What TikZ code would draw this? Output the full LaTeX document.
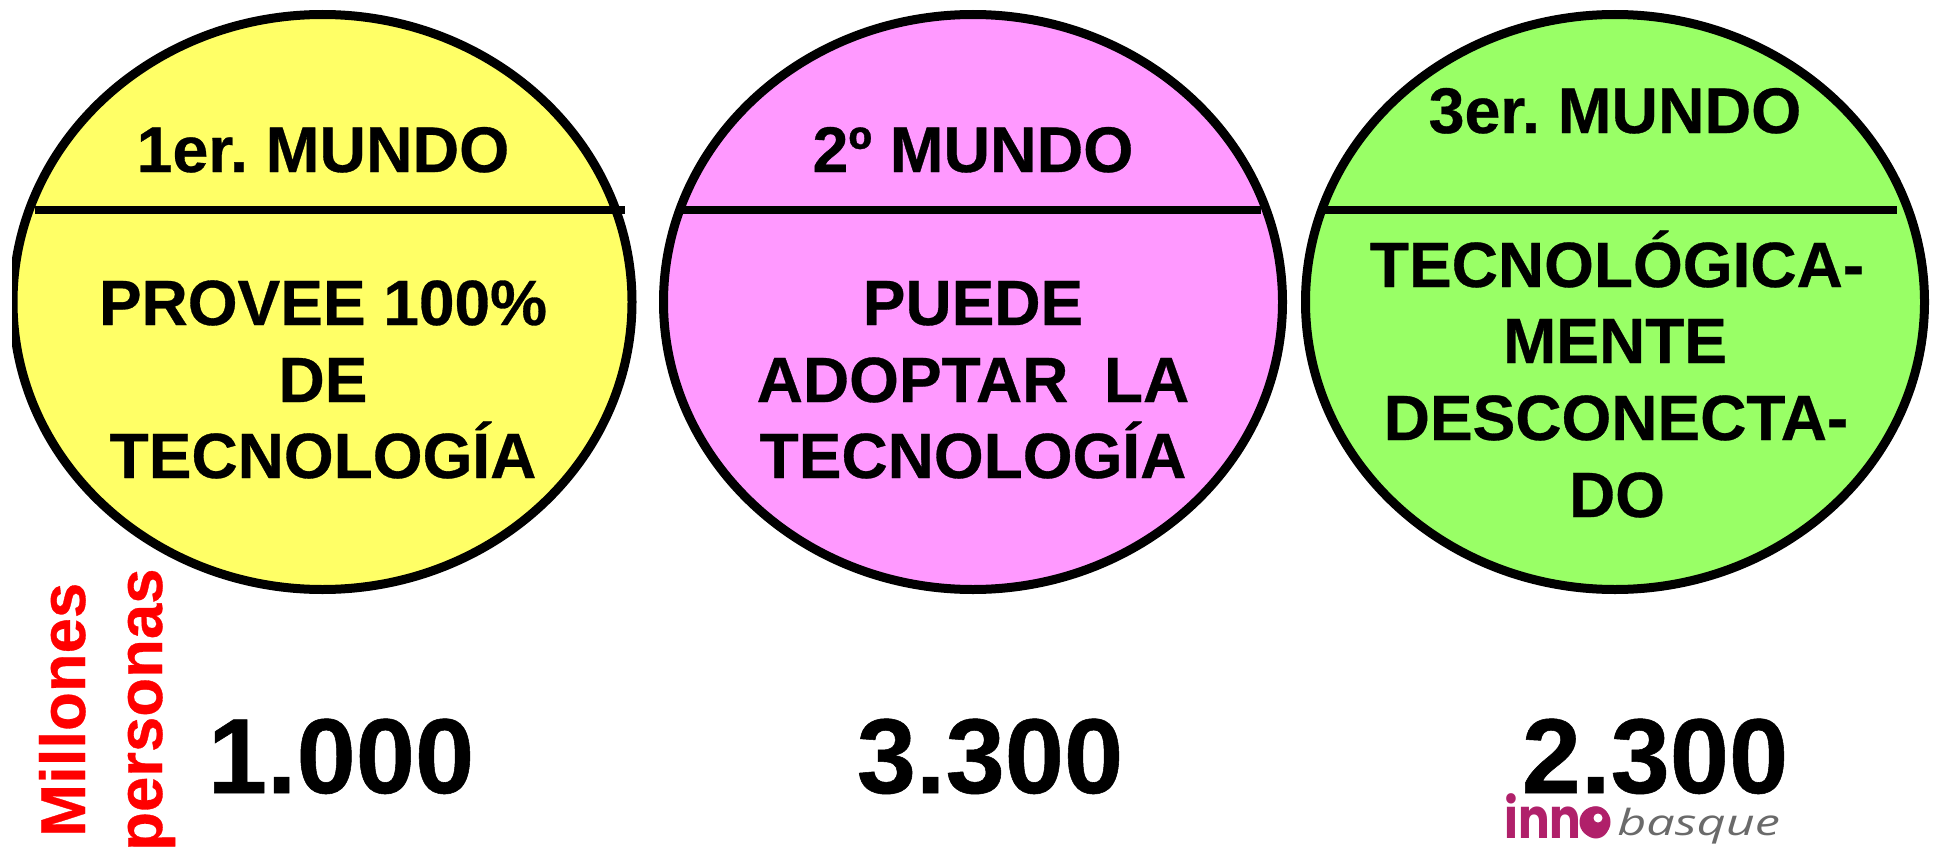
\documentclass[tikz,border=0pt]{standalone}
\usepackage{fontspec}
\setmainfont{Liberation Sans}[BoldFeatures={FakeBold=0.5}]
\newfontfamily\logofont{Poppins}
\newfontfamily\handfont{Open Sans}
\definecolor{mundoyellow}{HTML}{FFFF66}
\definecolor{mundopink}{HTML}{FF99FF}
\definecolor{mundogreen}{HTML}{99FF66}
\definecolor{innored}{HTML}{B0206A}
\definecolor{innogray}{HTML}{6A6A6A}
\tikzset{
 mundo/.style={draw=black,line width=9pt,ellipse,inner sep=0pt,minimum width=619pt,minimum height=575pt},
 divider/.style={line width=8.5pt},
 head/.style={anchor=base,font=\bfseries\fontsize{64.5}{64.5}\selectfont},
 body/.style={anchor=base,font=\bfseries\fontsize{64}{64}\selectfont},
 total/.style={anchor=base,font=\bfseries\fontsize{106.5}{106.5}\selectfont},
 unit/.style={anchor=base west,rotate=90,inner sep=0pt,text=red,font=\bfseries\fontsize{63.5}{63.5}\selectfont},
}
\usetikzlibrary{shapes.geometric}
\begin{document}
\frenchspacing
\begin{tikzpicture}[x=1pt,y=-1pt]
 \useasboundingbox (0,0) rectangle (1936,851);
 \node[mundo,fill=mundoyellow] (m1) at (322.5,302) {};
 \node[mundo,fill=mundopink] (m2) at (973,302) {};
 \node[mundo,fill=mundogreen] (m3) at (1615,302) {};
 \fill[white] (0,200) rectangle (12,400);
 %
 \coordinate (a1) at (35,210);
 \coordinate (b1) at (625,210);
 \coordinate (a2) at (683,210);
 \coordinate (b2) at (1261,210);
 \coordinate (a3) at (1323,210);
 \coordinate (b3) at (1897,210);
 \draw[divider] (a1) -- (b1);
 \draw[divider] (a2) -- (b2);
 \draw[divider] (a3) -- (b3);
 %
 \node[head] (h1) at (323,172) {1er. MUNDO};
 \node[head] (h2) at (973,172) {2º MUNDO};
 \node[head] (h3) at (1615,133) {3er. MUNDO};
 %
 \node[body] (p1) at (323,325) {PROVEE 100\%};
 \node[body] (p2) at (323,402) {DE};
 \node[body] (p3) at (323,478) {TECNOLOGÍA};
 \node[body] (q1) at (973,325) {PUEDE};
 \node[body] (q2) at (973,402) {ADOPTAR\ \ LA};
 \node[body] (q3) at (973,478) {TECNOLOGÍA};
 \node[body] (r1) at (1617,287) {TECNOLÓGICA-};
 \node[body] (r2) at (1615,363) {MENTE};
 \node[body] (r3) at (1616,440) {DESCONECTA-};
 \node[body] (r4) at (1617,517) {DO};
 %
 \node[unit] (u1) at (85,837) {Millones};
 \node[unit] (u2) at (162,851) {personas};
 \node[total] (t1) at (341,793) {1.000};
 \node[total] (t2) at (990,793) {3.300};
 \node[total] (t3) at (1655,793) {2.300};
 %
 \node[anchor=base west,inner sep=0pt,text=innored,xscale=.84,font=\logofont\bfseries\fontsize{56}{56}\selectfont] (inno) at (1504,838) {inno};
 \node[circle,fill=innored,inner sep=0pt,minimum size=31pt] (innoball) at (1595,822) {};
 \node[circle,fill=white,inner sep=0pt,minimum size=9pt] (innospot) at (1598,818) {};
 \node[anchor=base west,inner sep=0pt,text=innogray,xscale=1.4,font=\handfont\itshape\fontsize{36}{36}\selectfont] (basque) at (1617,835) {basque};
\end{tikzpicture}
\end{document}
